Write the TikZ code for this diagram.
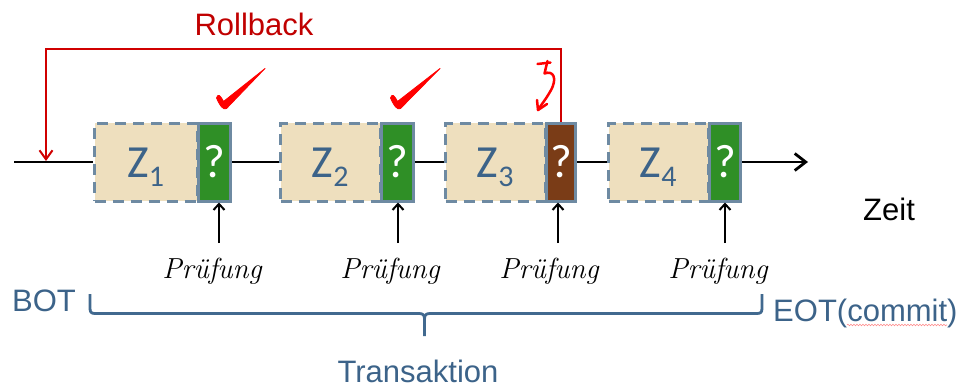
\documentclass[tikz,border=0pt]{standalone}
\usepackage{fontspec}
\newfontfamily\arialfont{Liberation Sans}
\newfontfamily\califont{Carlito}
\usetikzlibrary{arrows.meta,decorations.pathmorphing}
\definecolor{boxedge}{HTML}{6E8AA2}
\definecolor{beige}{HTML}{EEDFBE}
\definecolor{okgreen}{HTML}{2F8F26}
\definecolor{failbrown}{HTML}{7A3C17}
\definecolor{labelblue}{HTML}{3C6389}
\definecolor{braceblue}{HTML}{41698F}
\definecolor{rbred}{HTML}{D00000}
\definecolor{rolltext}{HTML}{C00000}
\definecolor{markred}{HTML}{FF0000}

\begin{document}
\begin{tikzpicture}[x=1pt,y=-1pt,
  zbox/.style={draw=boxedge, line width=3pt, dash pattern=on 11pt off 7pt,
    fill=beige, minimum height=78pt, inner sep=0pt, outer sep=1.5pt,
    text height=30pt, text depth=0pt, text=labelblue,
    font=\califont\fontsize{46}{46}\selectfont},
  qbox/.style={draw=boxedge, line width=3pt, minimum height=78pt,
    minimum width=31pt, inner sep=0pt, outer sep=1.5pt,
    text height=30pt, text depth=0pt, text=white,
    font=\califont\fontsize{47}{47}\selectfont},
  timeline/.style={line width=2.8pt, black},
  uparrow/.style={line width=2pt, black, -{Straight Barb[length=6pt,width=11pt]}},
  rollback/.style={line width=2pt, rbred, -{Straight Barb[length=9pt,width=13pt]}},
  pruef/.style={font=\fontsize{29}{29}\selectfont\itshape, anchor=base, inner sep=0pt},
  sanslabel/.style={font=\arialfont\fontsize{31}{31}\selectfont, inner sep=0pt},
  checkmark/.style={fill=markred, draw=markred, line width=0.8pt, line join=round},
  scribble/.style={draw=markred, line width=2.5pt, line cap=round, line join=round}
]
\useasboundingbox (0,0) rectangle (967,388);

% phases Z_i and their checks
\node[zbox, minimum width=102.5pt] (z1) at (145.75,162) {Z\raisebox{-9pt}{\fontsize{30}{30}\selectfont 1}};
\node[qbox, fill=okgreen, minimum width=32pt] (g1) at (214.5,162) {?};
\node[zbox, minimum width=99.5pt] (z2) at (330.25,162) {Z\raisebox{-9pt}{\fontsize{30}{30}\selectfont 2}};
\node[qbox, fill=okgreen, minimum width=32pt] (g2) at (397.5,162) {?};
\node[zbox, minimum width=99.5pt] (z3) at (495.25,162) {Z\raisebox{-9pt}{\fontsize{30}{30}\selectfont 3}};
\node[qbox, fill=failbrown, minimum width=29pt] (b3) at (561,162) {?};
\node[zbox, minimum width=99.5pt] (z4) at (658.25,162) {Z\raisebox{-9pt}{\fontsize{30}{30}\selectfont 4}};
\node[qbox, fill=okgreen, minimum width=31pt] (g4) at (725,162) {?};

% time axis
\coordinate (tstart) at (14,162);
\coordinate (tend) at (808,162);
\draw[timeline] (tstart) -- (z1.west);
\draw[timeline] (g1.east) -- (z2.west);
\draw[timeline] (g2.east) -- (z3.west);
\draw[timeline] (b3.east) -- (z4.west);
\draw[timeline, -{Straight Barb[length=11pt,width=17pt]}] (g4.east) -- (tend);
\node[sanslabel, anchor=base west] (zeit) at (863,220) {Zeit};

% checks
\node[pruef] (p1) at (212,278) {Prüfung};
\node[pruef] (p2) at (390,278) {Prüfung};
\node[pruef] (p3) at (549,278) {Prüfung};
\node[pruef] (p4) at (718,278) {Prüfung};
\coordinate (a1) at (219,243);
\coordinate (a2) at (398,243);
\coordinate (a3) at (558,243);
\coordinate (a4) at (725,243);
\draw[uparrow] (a1) -- (a1 |- g1.south);
\draw[uparrow] (a2) -- (a2 |- g2.south);
\draw[uparrow] (a3) -- (a3 |- b3.south);
\draw[uparrow] (a4) -- (a4 |- g4.south);

% rollback loop
\coordinate (rbtop) at (46,49);
\coordinate (rbend) at (46,161);
\draw[rollback] (b3.north) |- (rbtop) -- (rbend);
\node[sanslabel, text=rolltext, anchor=base] (rb) at (254,35) {Rollback};

% hand-drawn ticks
\path[checkmark] (216.5,98) .. controls (218,93) and (220.5,95.5) .. (223.5,101.5)
  -- (265,68.5) -- (226.5,108.5) .. controls (223.5,110.5) and (220,106) .. cycle;
\path[checkmark] (390.5,98) .. controls (392,93) and (394.5,95.5) .. (397.5,101.5)
  -- (440,68.5) -- (400.5,108.5) .. controls (397.5,110.5) and (394,106) .. cycle;

% scribble at the failed check
\draw[scribble] (537.5,64) -- (550.5,62.5);
\draw[scribble] (547.5,61) -- (544.5,73.5) .. controls (553,70) and (558,78) .. (550.5,91)
  .. controls (546,99) and (541,105) .. (538,110);
\draw[scribble] (537,100) -- (538,110) -- (547,104);

% transaction brace
\draw[braceblue, line width=2.8pt, line join=round]
  (90,294) -- (90,308) .. controls (90,312) and (91,313.5) .. (95,313.5)
  -- (419,313.5) .. controls (423,313.5) and (424.5,315) .. (424.5,319) -- (424.5,336);
\draw[braceblue, line width=2.8pt, line join=round]
  (424.5,319) .. controls (424.5,315) and (426,313.5) .. (430,313.5)
  -- (757,313.5) .. controls (761,313.5) and (762,312) .. (762,308) -- (762,294);
\node[sanslabel, text=labelblue, anchor=base west] (bot) at (12,311) {BOT};
\node[sanslabel, text=labelblue, anchor=base west] (eot) at (773,321) {EOT(commit)};
\draw[red!45, line width=0.6pt, decorate, decoration={snake, segment length=3pt, amplitude=0.8pt}]
  (847,325) -- (947,325);
\node[sanslabel, text=labelblue, anchor=base] (ta) at (418,382) {Transaktion};
\end{tikzpicture}
\end{document}
